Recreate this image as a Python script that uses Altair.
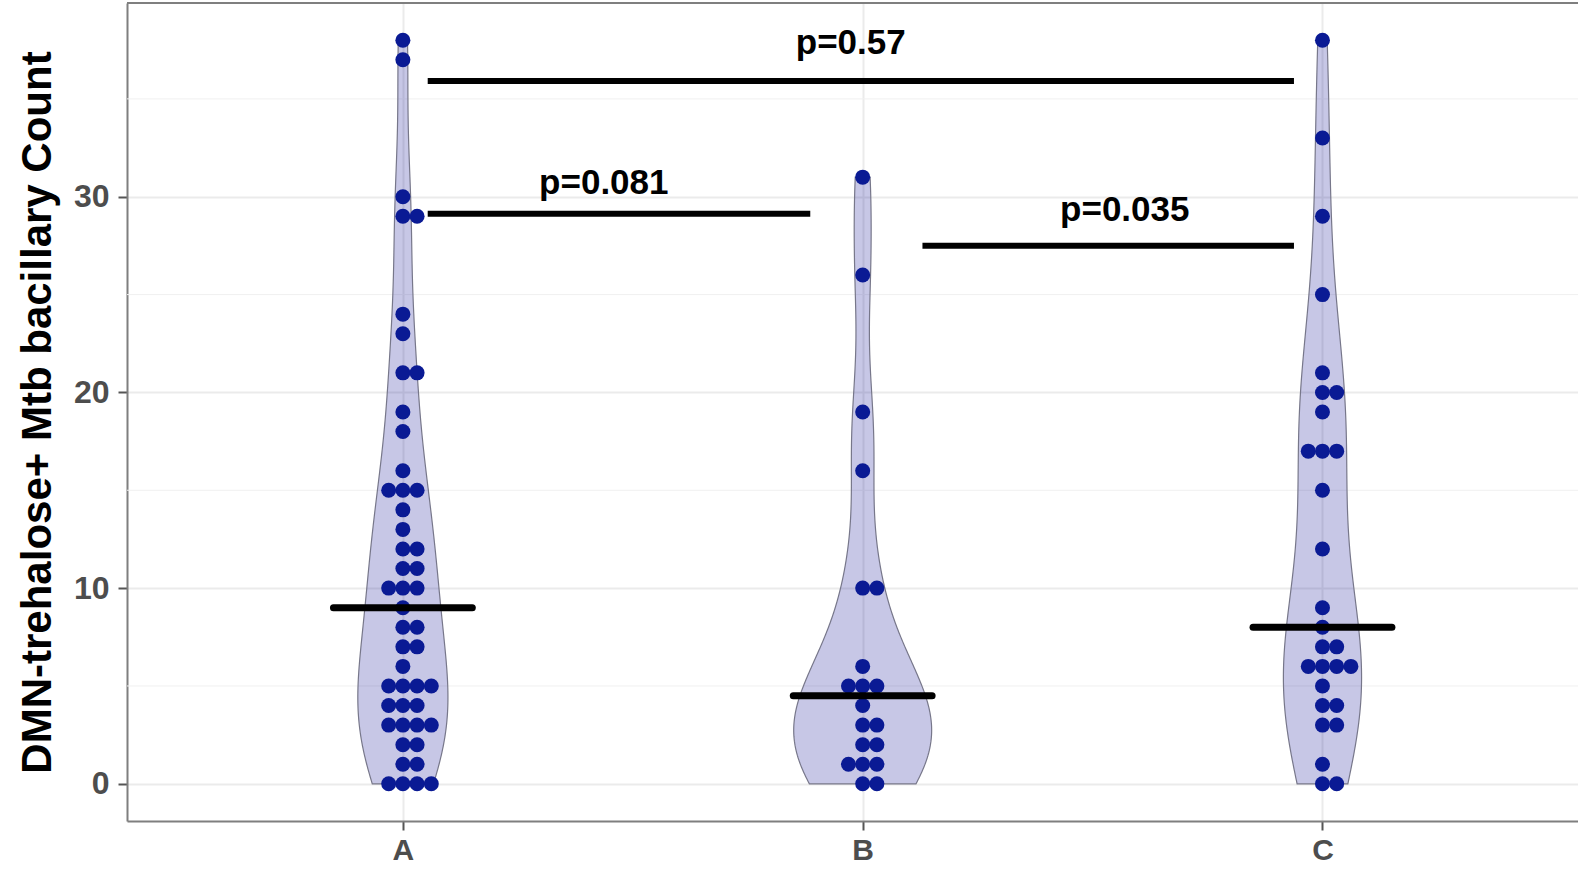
import altair as alt
import pandas as pd
import numpy as np

# ---- data ----
categories = ["A", "B", "C"]
values_A = [38, 37, 30, 29, 29, 24, 23, 21, 21, 19, 18, 16, 15, 15, 15, 14, 13, 12, 12,
            11, 11, 10, 10, 10, 9, 8, 8, 7, 7, 6, 5, 5, 5, 5, 4, 4, 4, 3, 3, 3, 3,
            2, 2, 1, 1, 0, 0, 0, 0]
values_B = [31, 26, 19, 16, 10, 10, 6, 5, 5, 5, 4, 3, 3, 2, 2, 1, 1, 1, 0, 0]
values_C = [38, 33, 29, 25, 21, 20, 20, 19, 17, 17, 17, 15, 12, 9, 8, 7, 7, 6, 6, 6, 6,
            5, 4, 4, 3, 3, 1, 0, 0]
violin_halfwidth = [0.098, 0.150, 0.085]   # widest half-width of each violin (x units)

sig_x1 = [1.054, 1.054, 2.130]
sig_x2 = [2.938, 1.886, 2.938]
sig_y = [35.92, 29.13, 27.5]
sig_label = ["p=0.57", "p=0.081", "p=0.035"]
sig_label_x = [1.974, 1.437, 2.570]
sig_label_y = [37.3, 30.16, 28.78]

y_ticks = [0, 10, 20, 30]
y_minor = [5, 15, 25, 35]
y_title = "DMN-trehalose+ Mtb bacillary Count"

# ---- layout ----
W, H = 1451, 818
UNIT = 459.8
XDOM = [0.4, 0.4 + W / UNIT]
YDOM = [-1.9, 39.9]
FONT = "Liberation Sans"
DOT_COLOR = "#0a1a94"

groups = {"A": values_A, "B": values_B, "C": values_C}
raw = pd.DataFrame(
    [{"group": g, "value": v} for g in categories for v in groups[g]]
)

xs = alt.Scale(domain=XDOM, nice=False, zero=False)
ys = alt.Scale(domain=YDOM, nice=False, zero=False)
pos_expr = "indexof(" + str(categories) + ", datum.group) + 1"

base = alt.Chart(raw)

# minor grid
minor = alt.Chart(pd.DataFrame({"y": y_minor})).mark_rule(
    color="#F0F0F0", strokeWidth=1
).encode(y=alt.Y("y:Q", scale=ys), x=alt.value(0), x2=alt.value(W))

# top border
top = alt.Chart(pd.DataFrame({"a": [0]})).mark_rule(
    color="#7F7F7F", strokeWidth=2
).encode(y=alt.value(0), x=alt.value(0), x2=alt.value(W))

# violins
def nrd0(v):
    v = np.asarray(v, float)
    sd = v.std(ddof=1)
    iqr = np.percentile(v, 75) - np.percentile(v, 25)
    lo = min(sd, iqr / 1.34)
    return 0.9 * lo * len(v) ** (-0.2)

violins = []
for i, g in enumerate(categories):
    vals = groups[g]
    v = (
        base.transform_filter(alt.datum.group == g)
        .transform_density(
            "value", as_=["value", "density"], bandwidth=nrd0(vals),
            extent=[min(vals), max(vals)], steps=256,
        )
        .transform_joinaggregate(maxd="max(density)")
        .transform_calculate(
            xl=f"{i + 1} - {violin_halfwidth[i]} * datum.density / datum.maxd",
            xr=f"{i + 1} + {violin_halfwidth[i]} * datum.density / datum.maxd",
        )
        .mark_area(orient="horizontal", fill="#00008B", fillOpacity=0.22,
                   stroke="#77778a", strokeWidth=1.2)
        .encode(
            y=alt.Y("value:Q", scale=ys),
            x=alt.X("xl:Q", scale=xs),
            x2="xr:Q",
        )
    )
    violins.append(v)

# dots
dots = (
    base.transform_window(rn="row_number()", groupby=["group", "value"])
    .transform_joinaggregate(n="count()", groupby=["group", "value"])
    .transform_calculate(
        xd=f"{pos_expr} + (datum.rn - 1 - floor((datum.n - 1) / 2)) * 0.0309"
    )
    .mark_circle(size=225, color=DOT_COLOR, opacity=1)
    .encode(x=alt.X("xd:Q", scale=xs), y=alt.Y("value:Q", scale=ys))
)

# medians
med = (
    base.transform_aggregate(med="median(value)", groupby=["group"])
    .transform_calculate(pos=pos_expr)
    .transform_calculate(m1="datum.pos - 0.151", m2="datum.pos + 0.151")
    .mark_rule(color="black", strokeWidth=7, strokeCap="round")
    .encode(x=alt.X("m1:Q", scale=xs), x2="m2:Q", y=alt.Y("med:Q", scale=ys))
)

sig = pd.DataFrame({"x1": sig_x1, "x2": sig_x2, "y": sig_y,
                    "label": sig_label, "lx": sig_label_x, "ly": sig_label_y})
sig_lines = alt.Chart(sig).mark_rule(color="black", strokeWidth=6).encode(
    x=alt.X("x1:Q", scale=xs), x2="x2:Q", y=alt.Y("y:Q", scale=ys)
)
sig_text = alt.Chart(sig).mark_text(
    font=FONT, fontSize=35, fontWeight="bold", color="black",
    align="center", baseline="alphabetic"
).encode(x=alt.X("lx:Q", scale=xs), y=alt.Y("ly:Q", scale=ys), text="label:N")

# axes carrier
axes = alt.Chart(pd.DataFrame({"x": [1.0], "y": [0.0]})).mark_point(opacity=0).encode(
    x=alt.X("x:Q", scale=xs, axis=alt.Axis(
        values=[1, 2, 3], title=None, grid=True, gridColor="#EBEBEB", gridWidth=2,
        labelExpr=str(categories) + "[datum.value - 1]",
        labelFont=FONT, labelFontSize=30, labelFontWeight="bold", labelColor="#4D4D4D",
        labelPadding=5, tickSize=9, tickWidth=2, tickColor="#555555",
        domainColor="#7F7F7F", domainWidth=2,
    )),
    y=alt.Y("y:Q", scale=ys, axis=alt.Axis(
        values=y_ticks, title=y_title, grid=True, gridColor="#EBEBEB", gridWidth=2,
        labelFont=FONT, labelFontSize=32, labelFontWeight="bold", labelColor="#4D4D4D",
        labelPadding=9, tickSize=9, tickWidth=2, tickColor="#555555",
        domainColor="#7F7F7F", domainWidth=2,
        titleFont=FONT, titleFontSize=42, titleFontWeight="bold", titleColor="black",
        titlePadding=14,
    )),
)

chart = alt.layer(
    axes, minor, *violins, dots, med, sig_lines, sig_text, top
).properties(
    width=W, height=H,
    autosize=alt.AutoSizeParams(type="none"),
    padding={"left": 127, "top": 3, "right": 0, "bottom": 48},
    background="white",
).configure_view(stroke=None)

chart.save("out.html", embed_options={"renderer": "svg", "actions": False})
